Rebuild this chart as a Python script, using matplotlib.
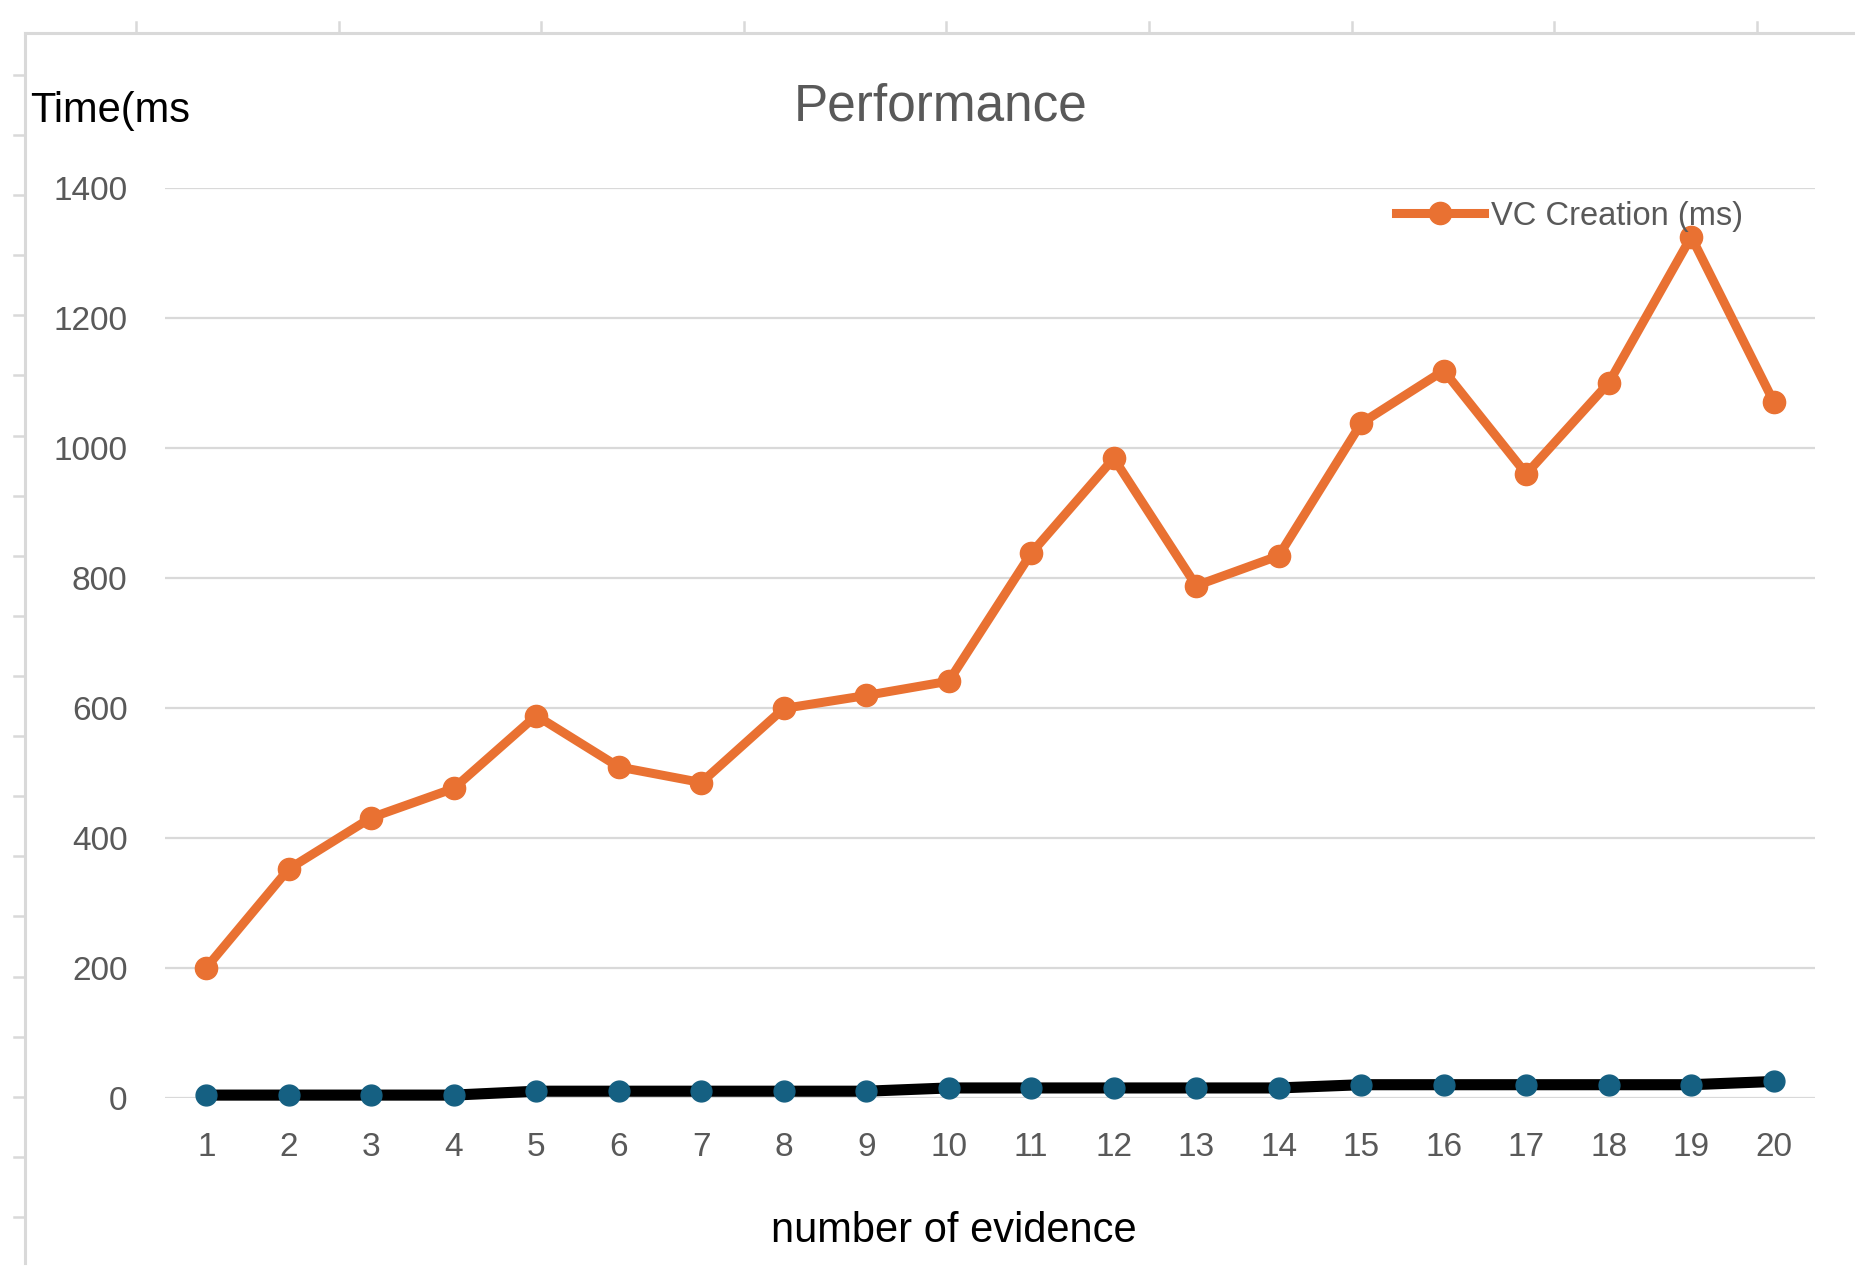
import matplotlib
matplotlib.use("Agg")
import matplotlib.pyplot as plt
from matplotlib.lines import Line2D

# data
evidence = list(range(1, 21))
vc_creation = [200, 352, 431, 476, 588, 509, 485, 599, 619, 641,
               838, 984, 788, 834, 1038, 1119, 960, 1100, 1325, 1071]
vc_verify = [4, 4, 4, 4, 10, 10, 10, 10, 10, 15,
             15, 15, 15, 15, 20, 20, 20, 20, 20, 25]
y_ticks = [0, 200, 400, 600, 800, 1000, 1200, 1400]

ORANGE = "#E97132"
BLUE = "#156082"
GREY_TXT = "#595959"
GRID = "#D9D9D9"

plt.rcParams['font.family'] = ['Liberation Sans', 'DejaVu Sans']

W, H = 1855, 1275
fig = plt.figure(figsize=(W / 100, H / 100), dpi=100)
fig.patch.set_facecolor("white")


def fx(px):
    return px / W


def fy(py):
    return 1 - py / H


# spreadsheet frame + ruler ticks behind the chart
fig.add_artist(Line2D([fx(25), fx(25)], [fy(33), fy(1263)], color=GRID, lw=2.2))
fig.add_artist(Line2D([fx(25), fx(W)], [fy(33), fy(33)], color=GRID, lw=2.2))
for k in range(9):
    x = 136 + 202.6 * k
    fig.add_artist(Line2D([fx(x), fx(x)], [fy(22), fy(33)], color=GRID, lw=1.8))
for k in range(20):
    y = 75 + 60.1 * k
    fig.add_artist(Line2D([fx(14), fx(25)], [fy(y), fy(y)], color=GRID, lw=1.8))

ax = fig.add_axes([fx(165), fy(1097.7), fx(1815) - fx(165), fy(188) - fy(1097.7)])
ax.set_xlim(0.5, 20.5)
ax.set_ylim(0, 1400)
for s in ax.spines.values():
    s.set_visible(False)
ax.set_yticks(y_ticks)
ax.set_xticks(evidence)
ax.tick_params(axis="both", length=0, labelsize=24, labelcolor=GREY_TXT)
ax.tick_params(axis="y", pad=27)
ax.tick_params(axis="x", pad=25)
ax.yaxis.grid(True, color=GRID, lw=1.6)
ax.set_axisbelow(True)

ax.plot(evidence, vc_creation, color=ORANGE, lw=6.5, marker="o", ms=16,
        mfc=ORANGE, mec=ORANGE, solid_joinstyle="round", label="VC Creation (ms)",
        clip_on=False, zorder=3)
ax.plot(evidence, vc_verify, color="black", lw=8, marker="o", ms=15,
        mfc=BLUE, mec=BLUE, clip_on=False, zorder=4)

h, l = ax.get_legend_handles_labels()
fig.legend(h[:1], l[:1], loc="center left", bbox_to_anchor=(fx(1396), fy(216)),
           frameon=False, fontsize=23.5, labelcolor=GREY_TXT, borderpad=0,
           borderaxespad=0, handlelength=2.7, handletextpad=0.2)

fig.text(fx(941), fy(107), "Performance", fontsize=37, color=GREY_TXT,
         ha="center", va="center")
fig.text(fx(30), fy(111), "Time(ms", fontsize=30, color="black",
         ha="left", va="center")
fig.text(fx(954), fy(1231), "number of evidence", fontsize=30, color="black",
         ha="center", va="center")

fig.savefig("out.png", dpi=100, facecolor="white")
